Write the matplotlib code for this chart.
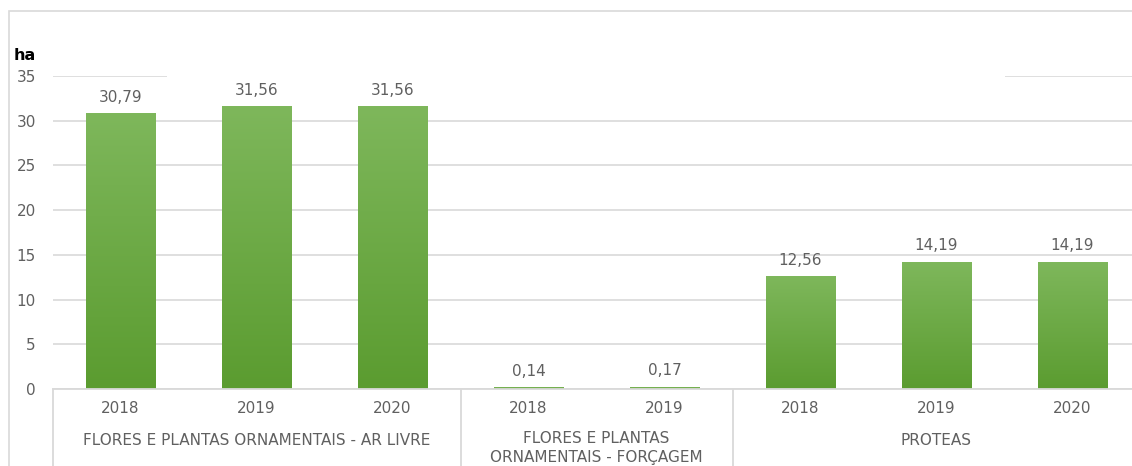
import matplotlib.pyplot as plt
from matplotlib.patches import Rectangle
from matplotlib.colors import LinearSegmentedColormap
import numpy as np

grupos = ["FLORES E PLANTAS ORNAMENTAIS - AR LIVRE",
          "FLORES E PLANTAS\nORNAMENTAIS - FORÇAGEM",
          "PROTEAS"]
anos = [["2018", "2019", "2020"],
        ["2018", "2019"],
        ["2018", "2019", "2020"]]
valores = [[30.79, 31.56, 31.56],
           [0.14, 0.17],
           [12.56, 14.19, 14.19]]

W, H = 1132, 466
plt.rcParams['font.family'] = ['DejaVu Sans']
cinza = '#606060'
linha = '#d9d9d9'

fig = plt.figure(figsize=(W / 100, H / 100), dpi=100)
ax = fig.add_axes([52.5 / W, 77 / H, 1088 / W, 313 / H])

verde = LinearSegmentedColormap.from_list('verde', ['#5b9c30', '#7eb75b'])
grad = np.linspace(0, 1, 100).reshape(-1, 1)

largura = 0.51
pos = 0
separadores = [pos - 0.5]
for nome, a, v in zip(grupos, anos, valores):
    inicio = pos
    for ano, val in zip(a, v):
        ax.imshow(grad, extent=[pos - largura / 2, pos + largura / 2, 0, val],
                  origin='lower', aspect='auto', cmap=verde, zorder=2)
        ax.annotate(f"{val:.2f}".replace('.', ','), (pos, val),
                    xytext=(0, 6.5), textcoords='offset points',
                    ha='center', va='bottom', fontsize=11, color=cinza)
        ax.text(pos, -0.061, ano, transform=ax.get_xaxis_transform(),
                ha='center', va='center', fontsize=11, color=cinza)
        pos += 1
    meio = (inicio + pos - 1) / 2
    yy = -0.1885 if '\n' in nome else -0.163
    ax.text(meio, yy, nome, transform=ax.get_xaxis_transform(),
            ha='center', va='center', fontsize=11, color=cinza,
            linespacing=1.3)
    separadores.append(pos - 0.5)

for s in separadores[:-1]:
    ax.plot([s, s], [0, -0.25], transform=ax.get_xaxis_transform(),
            color=linha, lw=1.3, clip_on=False, zorder=3)

ax.set_xlim(-0.5, pos - 0.5)
ax.set_ylim(0, 35)
ax.set_yticks(range(0, 36, 5))
ax.set_xticks([])
ax.tick_params(axis='y', length=0, pad=12, labelsize=11, labelcolor=cinza)
ax.grid(axis='y', color=linha, lw=1.2, zorder=0)
ax.set_axisbelow(True)
for lado in ['top', 'right', 'left']:
    ax.spines[lado].set_visible(False)
ax.spines['bottom'].set_color(linha)
ax.spines['bottom'].set_linewidth(1.3)

# area do titulo (tapa a grelha dos 35)
fig.patches.append(Rectangle((167 / W, (H - 80) / H), (1005 - 167) / W, 8 / H,
                             transform=fig.transFigure, facecolor='white',
                             edgecolor='none', zorder=1))
# moldura
fig.patches.append(Rectangle((9 / W, -0.1), 1.2, (H - 11) / H + 0.1,
                             transform=fig.transFigure, facecolor='none',
                             edgecolor=linha, lw=1.2, zorder=5))

fig.text(14 / W, (H - 55) / H, 'ha', fontsize=11.5, fontweight='bold',
         ha='left', va='center', color='black')

fig.savefig('out.png', dpi=100)
